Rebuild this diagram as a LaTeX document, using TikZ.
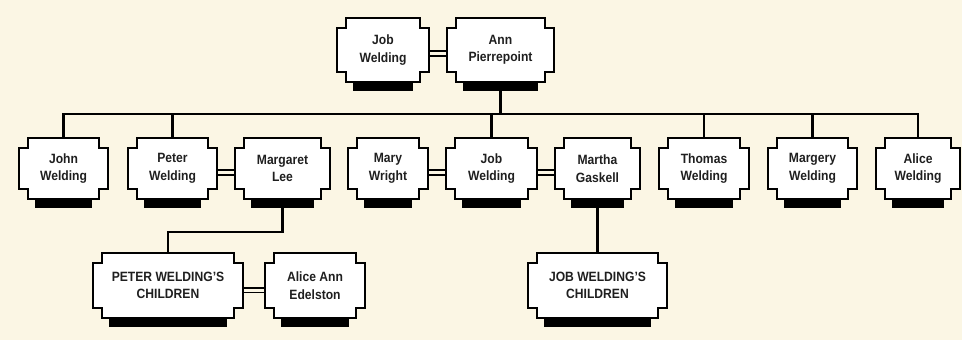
\documentclass[tikz,border=0pt]{standalone}
\usepackage{fontspec}
\setmainfont{Liberation Sans}[FakeStretch=0.9]
\usetikzlibrary{calc}
\pgfdeclarelayer{back}
\pgfdeclarelayer{links}
\pgfdeclarelayer{shapes}
\pgfsetlayers{back,links,shapes,main}
\definecolor{paper}{RGB}{251,246,228}
\tikzset{
  person/.style 2 args={minimum width={#1*0.75pt}, minimum height={#2*0.75pt}, inner sep=0pt,
    align=center, font=\bfseries\fontsize{10.1}{13.1}\selectfont, text=black!88},
  outline/.style={draw=black, line width=1.6pt, fill=white, line join=miter},
  link/.style={draw=black, line width=1.8pt},
  marr/.style={draw=black, line width=1.4pt, double=paper, double distance=2pt},
}
\newcommand\famshape[1]{%
  \fill ($(#1.south west)+(16,0)$) rectangle ($(#1.south east)+(-16,9)$);
  \draw[outline] ($(#1.north west)+(9,0)$) -- ($(#1.north east)+(-9,0)$) -- ++(0,10)
    -- ($(#1.north east)+(0,10)$) -- ($(#1.south east)+(0,-10)$) -- ++(-9,0)
    -- ($(#1.south east)+(-9,0)$) -- ($(#1.south west)+(9,0)$) -- ++(0,-10)
    -- ($(#1.south west)+(0,-10)$) -- ($(#1.north west)+(0,10)$) -- ++(9,0) -- cycle;
}
\begin{document}
\begin{tikzpicture}[x=0.75pt,y=-0.75pt]
\begin{pgfonlayer}{back}
  \fill[paper] (0,0) rectangle (962,340);
\end{pgfonlayer}
\useasboundingbox (0,0) rectangle (962,340);

% top row
\node[person={92}{64}] (jobT) at (383,50) {Job\\Welding};
\node[person={107}{64}] (ann) at (500.5,50) {Ann\\Pierrepoint};
% middle row
\node[person={89}{61}] (john) at (63.5,168.5) {John\\Welding};
\node[person={89}{61}] (peter) at (172.5,168.5) {Peter\\Welding};
\node[person={95}{61}] (margaret) at (282.5,168.5) {Margaret\\Lee};
\node[person={80}{61}] (mary) at (388,168.5) {Mary\\Wright};
\node[person={91}{61}] (jobM) at (491.5,168.5) {Job\\Welding};
\node[person={85}{61}] (martha) at (597.5,168.5) {Martha\\Gaskell};
\node[person={90}{61}] (thomas) at (704,168.5) {Thomas\\Welding};
\node[person={89}{61}] (margery) at (812.5,168.5) {Margery\\Welding};
\node[person={84}{61}] (aliceW) at (918,168.5) {Alice\\Welding};
% bottom row
\node[person={150}{65}] (pwc) at (168,285.5) {PETER WELDING'S\\CHILDREN};
\node[person={100}{65}] (aliceAnn) at (315,285.5) {Alice Ann\\Edelston};
\node[person={139}{65}] (jwc) at (597.5,285.5) {JOB WELDING'S\\CHILDREN};

\coordinate (bar) at (0,114);
\coordinate (kink) at (0,232);

\begin{pgfonlayer}{shapes}
  \foreach \n in {jobT,ann,john,peter,margaret,mary,jobM,martha,thomas,margery,aliceW,pwc,aliceAnn,jwc}{\famshape{\n}}
\end{pgfonlayer}

\begin{pgfonlayer}{links}
  % marriages
  \draw[marr] ([yshift=-2.5pt]jobT.east) -- ([yshift=-2.5pt]ann.west);
  \draw[marr] ([yshift=-3pt]peter.east) -- ([yshift=-3pt]margaret.west);
  \draw[marr] ([yshift=-3pt]mary.east) -- ([yshift=-3pt]jobM.west);
  \draw[marr] ([yshift=-3pt]jobM.east) -- ([yshift=-3pt]martha.west);
  \draw[marr] ([yshift=-3.5pt]pwc.east) -- ([yshift=-3.5pt]aliceAnn.west);
  % descent
  \draw[link] (ann.south) -- (ann.south |- bar);
  \draw[link] (john.north) -- (john.north |- bar) -- (aliceW.north |- bar) -- (aliceW.north);
  \foreach \c in {peter,jobM,thomas,margery}{\draw[link] (\c.north) -- (\c.north |- bar);}
  \draw[link] (margaret.south) -- (margaret.south |- kink) -| (pwc.north);
  \draw[link] (martha.south) -- (jwc.north);
\end{pgfonlayer}
\end{tikzpicture}
\end{document}
